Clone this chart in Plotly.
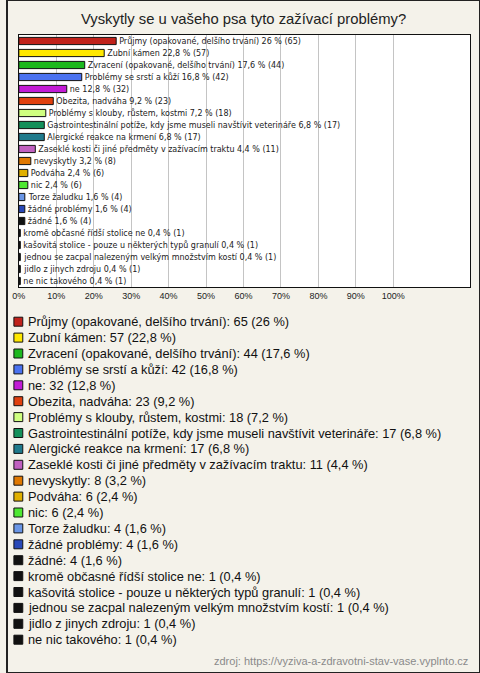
import plotly.graph_objects as go

# ---- data ----
names = [
    "Průjmy (opakované, delšího trvání)",
    "Zubní kámen",
    "Zvracení (opakované, delšího trvání)",
    "Problémy se srstí a kůží",
    "ne",
    "Obezita, nadváha",
    "Problémy s klouby, růstem, kostmi",
    "Gastrointestinální potíže, kdy jsme museli navštívit veterináře",
    "Alergické reakce na krmení",
    "Zaseklé kosti či jiné předměty v zažívacím traktu",
    "nevyskytly",
    "Podváha",
    "nic",
    "Torze žaludku",
    "žádné problémy",
    "žádné",
    "kromě občasné řídší stolice ne",
    "kašovitá stolice - pouze u některých typů granulí",
    "jednou se zacpal nalezeným velkým množstvím kostí",
    "jidlo z jinych zdroju",
    "ne nic takového",
]
counts = [65, 57, 44, 42, 32, 23, 18, 17, 17, 11, 8, 6, 6, 4, 4, 4, 1, 1, 1, 1, 1]
percents = [26, 22.8, 17.6, 16.8, 12.8, 9.2, 7.2, 6.8, 6.8, 4.4, 3.2, 2.4, 2.4, 1.6, 1.6, 1.6,
            0.4, 0.4, 0.4, 0.4, 0.4]
colors = ["#C0221B", "#FFE800", "#1DB81D", "#4A72F0", "#C21BD6", "#E0400E", "#CFFF80",
          "#14905A", "#1F7A8C", "#C060C0", "#E07800", "#E0B000", "#4EE832", "#6A96E6",
          "#2848B8", "#111111", "#111111", "#111111", "#111111", "#111111", "#111111"]
tick_vals = [0, 10, 20, 30, 40, 50, 60, 70, 80, 90, 100]
tick_text = [f"{v}%" for v in tick_vals]

title = "Vyskytly se u vašeho psa tyto zažívací problémy?"
source = "zdroj: https://vyziva-a-zdravotni-stav-vase.vyplnto.cz"

W, H = 480, 673
FONT = "Liberation Sans, Arial, sans-serif"
SMALL_FONT = "DejaVu Sans, Verdana, sans-serif"
BG = "#F4F2EA"


def fmt(p):
    return f"{p:g}".replace(".", ",")


bar_labels = [f"{n} {fmt(p)} % ({c})" for n, p, c in zip(names, percents, counts)]
legend_labels = [f"{n}: {c} ({fmt(p)} %)" for n, p, c in zip(names, percents, counts)]

fig = go.Figure()
fig.add_trace(go.Bar(
    x=percents, y=names, orientation="h",
    marker=dict(color=colors, line=dict(color="#111111", width=1)),
    width=0.6,
    text=bar_labels, textposition="outside", constraintext="none",
    textfont=dict(family=SMALL_FONT, size=8, color="#222222"),
    cliponaxis=False, showlegend=False, hoverinfo="skip",
))

# plot area in pixels
px0, px1 = 12, 470
py0, py1 = 35, 287

fig.update_layout(
    width=W, height=H,
    margin=dict(l=0, r=0, t=0, b=0),
    paper_bgcolor=BG, plot_bgcolor="white",
    font=dict(family=FONT, color="#222222"),
    showlegend=False,
    xaxis=dict(domain=[px0 / W, px1 / W], range=[0, 100 * (px1 - px0) / 380],
               tickvals=tick_vals, ticktext=tick_text, tickfont=dict(size=9, color="#222222"),
               showgrid=True, gridcolor="#C4C4C4", gridwidth=1, zeroline=False,
               showline=True, linecolor="#111111", linewidth=1, mirror=True, ticks="",
               fixedrange=True),
    yaxis=dict(domain=[1 - py1 / H, 1 - py0 / H], type="category",
               range=[len(names) - 0.5, -0.5], showticklabels=False, showgrid=False,
               showline=True, linecolor="#111111", linewidth=1, mirror=True, ticks="",
               fixedrange=True),
)

annotations = [
    dict(text=title, x=0.5, y=1 - 19 / H, xref="paper", yref="paper", xanchor="center",
         yanchor="middle", showarrow=False, font=dict(size=14.8, color="#222222", family=FONT)),
    dict(text=source, x=470 / W, y=1 - 661 / H, xref="paper", yref="paper", xanchor="right",
         yanchor="middle", showarrow=False, font=dict(size=11, color="#8A8A8A", family=FONT)),
]
shapes = [
    dict(type="rect", xref="paper", yref="paper", x0=0, x1=1, y0=0, y1=1,
         line=dict(color="#222222", width=2), fillcolor="rgba(0,0,0,0)"),
]

leg_y0, leg_dy = 321.7, 15.9
for i, (lab, col) in enumerate(zip(legend_labels, colors)):
    yc = leg_y0 + i * leg_dy
    shapes.append(dict(type="rect", xref="paper", yref="paper",
                       x0=7 / W, x1=16 / W, y0=1 - (yc + 4.5) / H, y1=1 - (yc - 4.5) / H,
                       line=dict(color="#111111", width=1), fillcolor=col))
    annotations.append(dict(text=lab, x=19 / W, y=1 - yc / H, xref="paper", yref="paper",
                            xanchor="left", yanchor="middle", showarrow=False,
                            font=dict(size=12.8, color="#111111", family=FONT)))

fig.update_layout(annotations=annotations, shapes=shapes)
fig.write_html("out.html", config={"displayModeBar": False},
               post_script="document.body.style.margin='0';document.body.style.overflow='hidden';")
